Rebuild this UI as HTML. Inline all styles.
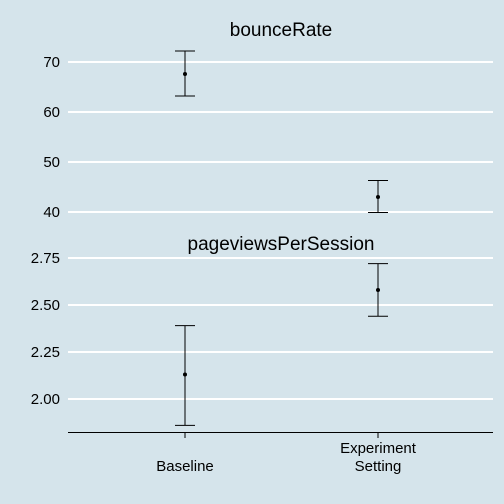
<!DOCTYPE html>
<html><head><meta charset="utf-8"><style>
body{margin:0;background:#d5e4eb;}
svg{display:block;font-family:"Liberation Sans",sans-serif;}
</style></head><body>
<svg width="504" height="504">
<rect width="504" height="504" fill="#d5e4eb"/>
<g id="plot"></g>
</svg>
<script>
const categories=["Baseline","Experiment\nSetting"];
const bounceMean=[67.6,43.0];
const bounceLow=[63.2,39.9];
const bounceHigh=[72.2,46.3];
const pvMean=[2.13,2.58];
const pvLow=[1.86,2.44];
const pvHigh=[2.39,2.72];
const bounceTicks=[40,50,60,70];
const pvTicks=[2.00,2.25,2.50,2.75];
const pvTickLabels=["2.00","2.25","2.50","2.75"];

const NS="http://www.w3.org/2000/svg";
const g=document.getElementById('plot');
function el(t,a,p){const e=document.createElementNS(NS,t);for(const k in a)e.setAttribute(k,a[k]);(p||g).appendChild(e);return e;}
const xL=68,xR=493;
function xs(i){return [185,378][i];}
const yTop=v=>212-(v-40)*5;
const yBot=v=>399-(v-2)*188;

function panel(name,title,titleY,mean,lo,hi,ticks,labels,ys){
  const pg=el('g',{});
  
  
  const t=el('text',{x:281,y:titleY,'text-anchor':'middle','font-size':19,fill:'#000'},pg);
  t.textContent=title;
  
  
  ticks.forEach((v,i)=>{
    const l=el('line',{x1:xL,x2:xR,y1:ys(v),y2:ys(v),stroke:'#fff','stroke-width':2},pg);
    
    
    const tx=el('text',{x:60,y:ys(v)+5,'text-anchor':'end','font-size':15,fill:'#000'},pg);
    tx.textContent=labels[i];
    
    
  });
  mean.forEach((m,i)=>{
    const x=xs(i);
    const eg=el('g',{stroke:'#000','stroke-width':1},pg);
    
    
    el('line',{x1:x,x2:x,y1:ys(lo[i]),y2:ys(hi[i])},eg);
    el('line',{x1:x-10,x2:x+10,y1:ys(lo[i]),y2:ys(lo[i])},eg);
    el('line',{x1:x-10,x2:x+10,y1:ys(hi[i]),y2:ys(hi[i])},eg);
    const c=el('circle',{cx:x,cy:ys(m),r:2,fill:'#000'},pg);
    
    
  });
}
panel('bounce-rate','bounceRate',36,bounceMean,bounceLow,bounceHigh,bounceTicks,bounceTicks.map(String),yTop);
panel('pageviews','pageviewsPerSession',250,pvMean,pvLow,pvHigh,pvTicks,pvTickLabels,yBot);

const ax=el('line',{x1:xL,x2:xR,y1:432.5,y2:432.5,stroke:'#000','stroke-width':1});


categories.forEach((c,i)=>{
  const tk=el('line',{x1:xs(i),x2:xs(i),y1:432,y2:438,stroke:'#000'});
  
  
  const lines=c.split('\n');
  const t=el('text',{x:xs(i),'text-anchor':'middle','font-size':15,fill:'#000'});
  
  
  const y0=lines.length==1?471:453;
  lines.forEach((s,j)=>{const sp=el('tspan',{x:xs(i),y:y0+j*18},t);sp.textContent=s;});
});
</script>
</body></html>
